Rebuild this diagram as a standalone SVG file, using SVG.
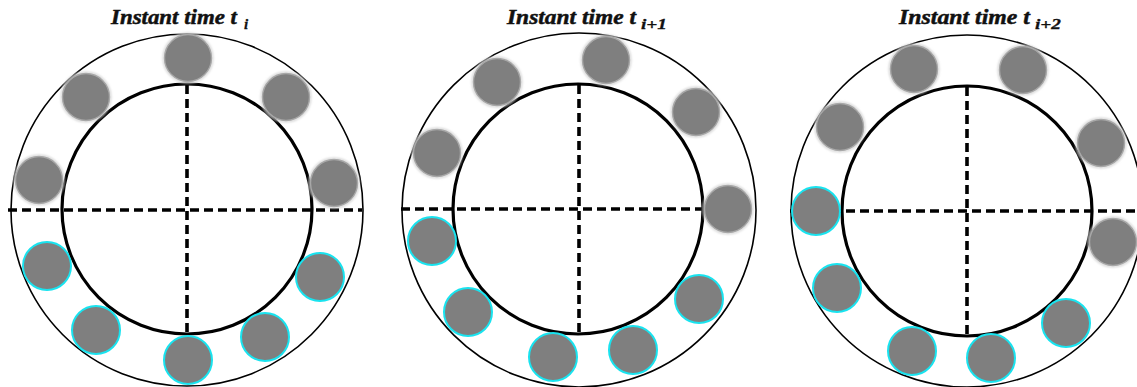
<svg xmlns="http://www.w3.org/2000/svg" width="1137" height="387" viewBox="0 0 1137 387">
  <defs>
    <filter id="soft" x="-30%" y="-30%" width="160%" height="160%">
      <feGaussianBlur stdDeviation="0.8"/>
    </filter>
    <!-- grey roller with soft halo -->
    <g id="ballSoft">
      <circle r="24.5" fill="none" stroke="#d4d4d4" stroke-width="2" filter="url(#soft)"/>
      <circle r="23.5" fill="#7f7f7f" stroke="#a8a8a8" stroke-width="1.4"/>
    </g>
    <!-- grey roller with cyan rim -->
    <g id="ballCyan">
      <circle r="24" fill="#7f7f7f" stroke="#19e3ef" stroke-width="2"/>
    </g>
  </defs>
  <style>
    .outer { fill: none; stroke: #000; stroke-width: 1.6; }
    .inner { fill: none; stroke: #000; stroke-width: 3.2; }
    .axis { stroke: #000; stroke-width: 3.6; stroke-dasharray: 9 5; fill: none; }
    .title { font-family: "Liberation Serif", "DejaVu Serif", serif; font-weight: bold; font-style: italic; font-size: 22px; fill: #111; stroke: #111; stroke-width: 0.5; }
    .sub { font-family: "Liberation Serif", "DejaVu Serif", serif; font-weight: bold; font-style: italic; font-size: 15px; fill: #111; stroke: #111; stroke-width: 0.3; }
  </style>
  <rect width="1137" height="387" fill="#fff"/>

  <!-- titles -->
  <g id="titles">
    <text class="title" x="111" y="24" textLength="126" lengthAdjust="spacingAndGlyphs">Instant time t</text>
    <text class="sub" x="244" y="29">i</text>
    <text class="title" x="507" y="24" textLength="129" lengthAdjust="spacingAndGlyphs">Instant time t</text>
    <text class="sub" x="641" y="29" textLength="26" lengthAdjust="spacingAndGlyphs">i+1</text>
    <text class="title" x="899" y="24" textLength="131" lengthAdjust="spacingAndGlyphs">Instant time t</text>
    <text class="sub" x="1035" y="29" textLength="26" lengthAdjust="spacingAndGlyphs">i+2</text>
  </g>

  <!-- bearing rings -->
  <g id="ring-1">
    <circle class="outer" cx="187" cy="210" r="176"/>
    <circle class="inner" cx="187" cy="209" r="125"/>
  </g>
  <g id="ring-2">
    <circle class="outer" cx="579" cy="210" r="177"/>
    <circle class="inner" cx="578" cy="209" r="125"/>
  </g>
  <g id="ring-3">
    <circle class="outer" cx="967" cy="211" r="176"/>
    <circle class="inner" cx="967" cy="211" r="125"/>
  </g>

  <!-- dashed reference axes -->
  <g id="connectors">
    <line class="axis" x1="8" y1="210" x2="362" y2="210"/>
    <line class="axis" x1="187" y1="85" x2="187" y2="334"/>
    <line class="axis" x1="401" y1="209" x2="740" y2="209"/>
    <line class="axis" x1="579" y1="85" x2="579" y2="335"/>
    <line class="axis" x1="790" y1="211" x2="1137" y2="211"/>
    <line class="axis" x1="967" y1="87" x2="967" y2="336"/>
  </g>

  <!-- rollers at t_i -->
  <g id="rollers-1">
    <g id="r1-a"><use href="#ballSoft" x="188" y="58"/></g>
    <g id="r1-b"><use href="#ballSoft" x="86" y="97"/></g>
    <g id="r1-c"><use href="#ballSoft" x="286" y="97"/></g>
    <g id="r1-d"><use href="#ballSoft" x="39" y="180"/></g>
    <g id="r1-e"><use href="#ballSoft" x="334" y="183"/></g>
    <g id="r1-f"><use href="#ballCyan" x="47" y="266"/></g>
    <g id="r1-g"><use href="#ballCyan" x="96" y="330"/></g>
    <g id="r1-h"><use href="#ballCyan" x="188" y="360"/></g>
    <g id="r1-i"><use href="#ballCyan" x="265" y="337"/></g>
    <g id="r1-j"><use href="#ballCyan" x="320" y="277"/></g>
  </g>

  <!-- rollers at t_i+1 -->
  <g id="rollers-2">
    <g id="r2-a"><use href="#ballSoft" x="606" y="60"/></g>
    <g id="r2-b"><use href="#ballSoft" x="497" y="82"/></g>
    <g id="r2-c"><use href="#ballSoft" x="696" y="112"/></g>
    <g id="r2-d"><use href="#ballSoft" x="437" y="153"/></g>
    <g id="r2-e"><use href="#ballSoft" x="728" y="209"/></g>
    <g id="r2-f"><use href="#ballCyan" x="432" y="241"/></g>
    <g id="r2-g"><use href="#ballCyan" x="468" y="312"/></g>
    <g id="r2-h"><use href="#ballCyan" x="553" y="357"/></g>
    <g id="r2-i"><use href="#ballCyan" x="633" y="350"/></g>
    <g id="r2-j"><use href="#ballCyan" x="699" y="299"/></g>
  </g>

  <!-- rollers at t_i+2 -->
  <g id="rollers-3">
    <g id="r3-a"><use href="#ballSoft" x="914" y="69"/></g>
    <g id="r3-b"><use href="#ballSoft" x="1023" y="70"/></g>
    <g id="r3-c"><use href="#ballSoft" x="840" y="127"/></g>
    <g id="r3-d"><use href="#ballSoft" x="1101" y="143"/></g>
    <g id="r3-e"><use href="#ballSoft" x="1113" y="242"/></g>
    <g id="r3-f"><use href="#ballCyan" x="816" y="211"/></g>
    <g id="r3-g"><use href="#ballCyan" x="837" y="288"/></g>
    <g id="r3-h"><use href="#ballCyan" x="912" y="351"/></g>
    <g id="r3-i"><use href="#ballCyan" x="991" y="358"/></g>
    <g id="r3-j"><use href="#ballCyan" x="1066" y="323"/></g>
  </g>
</svg>
